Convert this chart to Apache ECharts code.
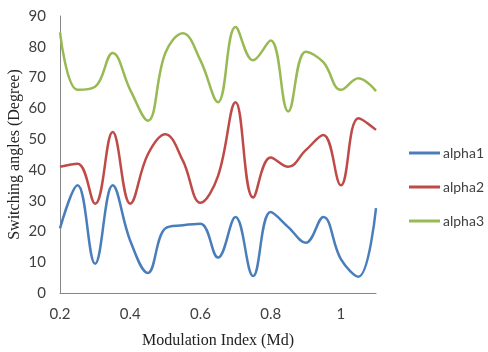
<!DOCTYPE html>
<html><head><meta charset="utf-8">
<script src="https://cdn.jsdelivr.net/npm/echarts@6/dist/echarts.min.js"></script>
<style>html,body{margin:0;padding:0;background:#fff}#c{width:488px;height:352px}</style>
</head><body><div id="c"></div>
<script>
const xs = [0.2,0.25,0.3,0.35,0.4,0.45,0.5,0.55,0.6,0.65,0.7,0.75,0.8,0.85,0.9,0.95,1.0,1.05,1.1];
const alpha1 = [21,35,9.5,35,17,6.5,21,22,22.5,11.5,24.7,5.5,26.3,21.4,16.3,24.7,11,5.3,27.6];
const alpha2 = [41,42,29,52.3,29,45,51.6,43,29.3,38,62,31,44,41,46.4,51.3,35,56.8,53];
const alpha3 = [84.7,66,67,78,66,56,78,84.4,75.6,62,86.4,75.6,82,59,78.4,75,66,69.8,65.6];
const seriesNames = ['alpha1','alpha2','alpha3'];
const colors = ['#4A7EBB','#BE4B48','#98B954'];
const data = [alpha1, alpha2, alpha3];

const chart = echarts.init(document.getElementById('c'));
chart.setOption({
  animation: false,
  grid: {left: 60, right: 112, top: 16, bottom: 59, outerBoundsMode: 'none', containLabel: false},
  legend: {
    orient: 'vertical', left: 404, top: 141, itemGap: 20,
    icon: 'rect', itemWidth: 31, itemHeight: 3,
    textStyle: {fontFamily: 'Lato', fontSize: 14, color: '#404040', padding: [0,0,0,-2]},
    data: seriesNames
  },
  xAxis: {
    type: 'value', min: 0.2, max: 1.1, interval: 0.2,
    name: 'Modulation Index (Md)', nameLocation: 'middle', nameGap: 40, nameMoveOverlap: false,
    nameTextStyle: {fontFamily: 'Liberation Serif', fontSize: 16, color: '#222'},
    axisLine: {show: true, lineStyle: {color: '#868686', width: 1}},
    axisTick: {show: false},
    splitLine: {show: false},
    axisLabel: {fontFamily: 'Lato', fontSize: 15, color: '#404040', margin: 14, showMaxLabel: false}
  },
  yAxis: {
    type: 'value', min: 0, max: 90, interval: 10,
    name: 'Switching angles (Degree)', nameLocation: 'middle', nameGap: 37, nameMoveOverlap: false,
    nameTextStyle: {fontFamily: 'Liberation Serif', fontSize: 16, color: '#222'},
    axisLine: {show: true, lineStyle: {color: '#868686', width: 1}},
    axisTick: {show: false},
    splitLine: {show: false},
    axisLabel: {fontFamily: 'Lato', fontSize: 15, color: '#404040', margin: 14}
  },
  series: seriesNames.map((n, i) => ({
    name: n, type: 'line', smooth: 0.4, symbol: 'none',
    data: xs.map((x, j) => [x, data[i][j]]),
    lineStyle: {color: colors[i], width: 2.5},
    itemStyle: {color: colors[i]}
  }))
});
</script></body></html>
